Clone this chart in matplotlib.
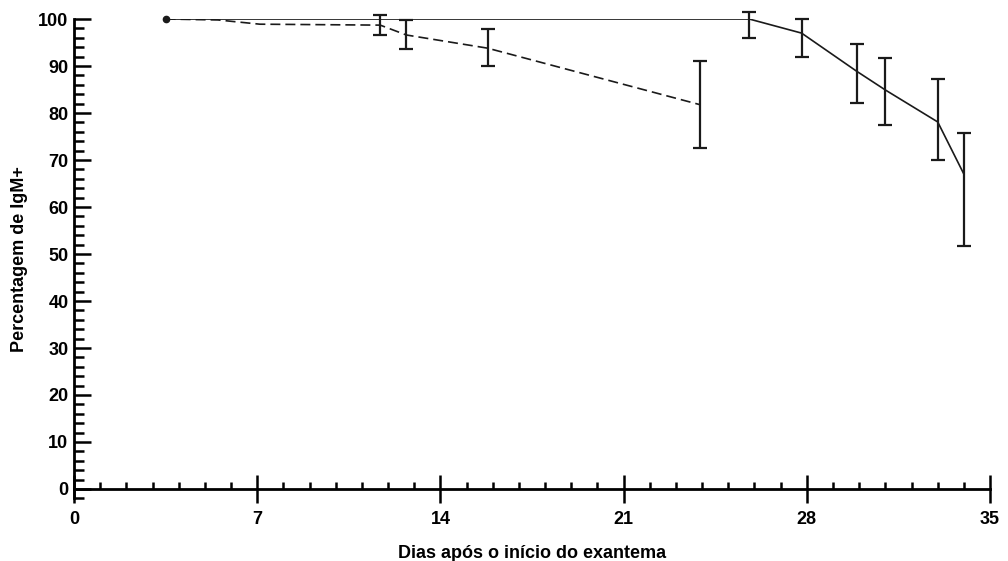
import matplotlib as mpl
import matplotlib.pyplot as plt
import matplotlib.ticker as ticker

mpl.rcParams['font.family'] = ['Liberation Sans', 'DejaVu Sans']
mpl.rcParams['font.weight'] = 'bold'
mpl.rcParams['axes.labelweight'] = 'bold'
mpl.rcParams['font.size'] = 13

# Solid curve (with error bars)
solid_x = [3.5, 25.8, 27.8, 29.9, 31.0, 33.0, 34.0]
solid_y = [100.0, 100.0, 97.0, 88.9, 84.9, 78.1, 67.0]
solid_lo = [None, 96.0, 92.0, 82.1, 77.4, 69.9, 51.7]
solid_hi = [None, 101.5, 100.0, 94.7, 91.6, 87.3, 75.8]

# Dashed curve (with error bars)
dash_x = [3.5, 5.5, 7.1, 11.7, 12.7, 15.8, 23.9]
dash_y = [100.0, 99.8, 98.9, 98.7, 96.6, 93.8, 81.8]
dash_lo = [None, None, None, 96.7, 93.6, 90.0, 72.6]
dash_hi = [None, None, None, 100.9, 99.8, 97.9, 91.0]

xticks = [0, 7, 14, 21, 28, 35]
yticks = [0, 10, 20, 30, 40, 50, 60, 70, 80, 90, 100]

color = '#1a1a1a'

fig = plt.figure(figsize=(10.08, 5.61), dpi=100)
ax = fig.add_axes([0.0734, 0.1116, 0.9088, 0.8545])

ax.plot(solid_x, solid_y, color=color, linewidth=1.2)
ax.plot(dash_x, dash_y, color=color, linewidth=1.2, dashes=(6, 3))
ax.plot(solid_x[0], solid_y[0], 'o', color=color, markersize=4.5, clip_on=False)


def draw_bars(xs, ys, lo, hi):
    bx, by, el, eh = [], [], [], []
    for x, y, l, h in zip(xs, ys, lo, hi):
        if l is None:
            continue
        bx.append(x)
        by.append(y)
        el.append(y - l)
        eh.append(h - y)
    ax.errorbar(bx, by, yerr=[el, eh], fmt='none', ecolor=color,
                elinewidth=1.6, capsize=5, capthick=1.6, clip_on=False)


draw_bars(solid_x, solid_y, solid_lo, solid_hi)
draw_bars(dash_x, dash_y, dash_lo, dash_hi)

ax.set_xlim(0, 35)
ax.set_ylim(-2, 100)

for s in ['top', 'right']:
    ax.spines[s].set_visible(False)
ax.spines['bottom'].set_position(('data', 0))
ax.spines['left'].set_bounds(-2, 100)
for s in ['left', 'bottom']:
    ax.spines[s].set_linewidth(2)
    ax.spines[s].set_color('black')

ax.set_xticks(xticks)
ax.set_yticks(yticks)
ax.xaxis.set_minor_locator(ticker.MultipleLocator(1))
ax.yaxis.set_minor_locator(ticker.MultipleLocator(2))

ax.tick_params(axis='y', which='major', direction='in', length=12, width=1.8, pad=4)
ax.tick_params(axis='y', which='minor', direction='in', length=7, width=1.8)
ax.tick_params(axis='x', which='major', direction='inout', length=20, width=1.8, pad=6)
ax.tick_params(axis='x', which='minor', direction='in', length=5, width=1.8)

ax.set_xlabel('Dias após o início do exantema', labelpad=12)
ax.set_ylabel('Percentagem de IgM+', labelpad=7)

plt.savefig('out.png', dpi=100)
